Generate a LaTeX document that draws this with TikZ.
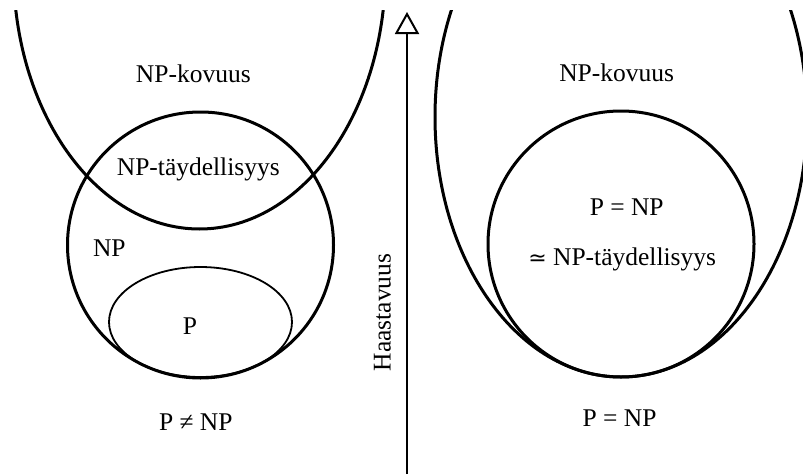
\documentclass[tikz,border=0pt]{standalone}
\usepackage{fontspec}
\setmainfont{Liberation Serif}
\newfontfamily\symf{DejaVu Sans}
\usetikzlibrary{arrows.meta}
\begin{document}
\begin{tikzpicture}[x=1pt,y=-1pt,
  thickline/.style={line width=3pt},
  thinline/.style={line width=1.8pt},
  lbl/.style={font=\fontsize{25.5}{30}\selectfont, inner sep=0pt, anchor=base}]
\useasboundingbox (0,0) rectangle (803,474);
\begin{scope}
\clip (0,10) rectangle (803,474);
% left diagram
\draw[thickline] (199.5,-31) ellipse [x radius=186, y radius=260];
\draw[thickline] (200.5,245) circle [radius=133];
\begin{scope}
\clip (200.5,245) circle [radius=133];
\draw[thinline] (200.5,322) ellipse [x radius=91.5, y radius=55];
\end{scope}
% right diagram
\draw[thickline] (621,117) ellipse [x radius=186, y radius=260];
\draw[thickline] (621,244) circle [radius=133];
\end{scope}
% labels left
\node[lbl] (hardL) at (193.3,82.5) {NP-kovuus};
\node[lbl] (compL) at (198.3,175.5) {NP-täydellisyys};
\node[lbl] (np) at (109.3,256.7) {NP};
\node[lbl] (p) at (190,334.3) {P};
\node[lbl] (neq) at (195.8,430) {P ≠ NP};
% axis
\coordinate (abot) at (407,474);
\coordinate (atop) at (407,12);
\draw[line width=2pt, -{Triangle[open,length=22pt,width=24pt,line width=2pt]}] (abot) -- (atop);
\node[lbl, rotate=90] (haast) at (390.5,312.5) {Haastavuus};
% labels right
\node[lbl] (hardR) at (616.7,81) {NP-kovuus};
\node[lbl] (eqin) at (626.7,215) {P = NP};
\node[lbl] (compR) at (622.2,265.7) {{\symf\fontsize{22}{26}\selectfont ≃} NP-täydellisyys};
\node[lbl] (eqbot) at (619.5,426.7) {P = NP};
\end{tikzpicture}
\end{document}
